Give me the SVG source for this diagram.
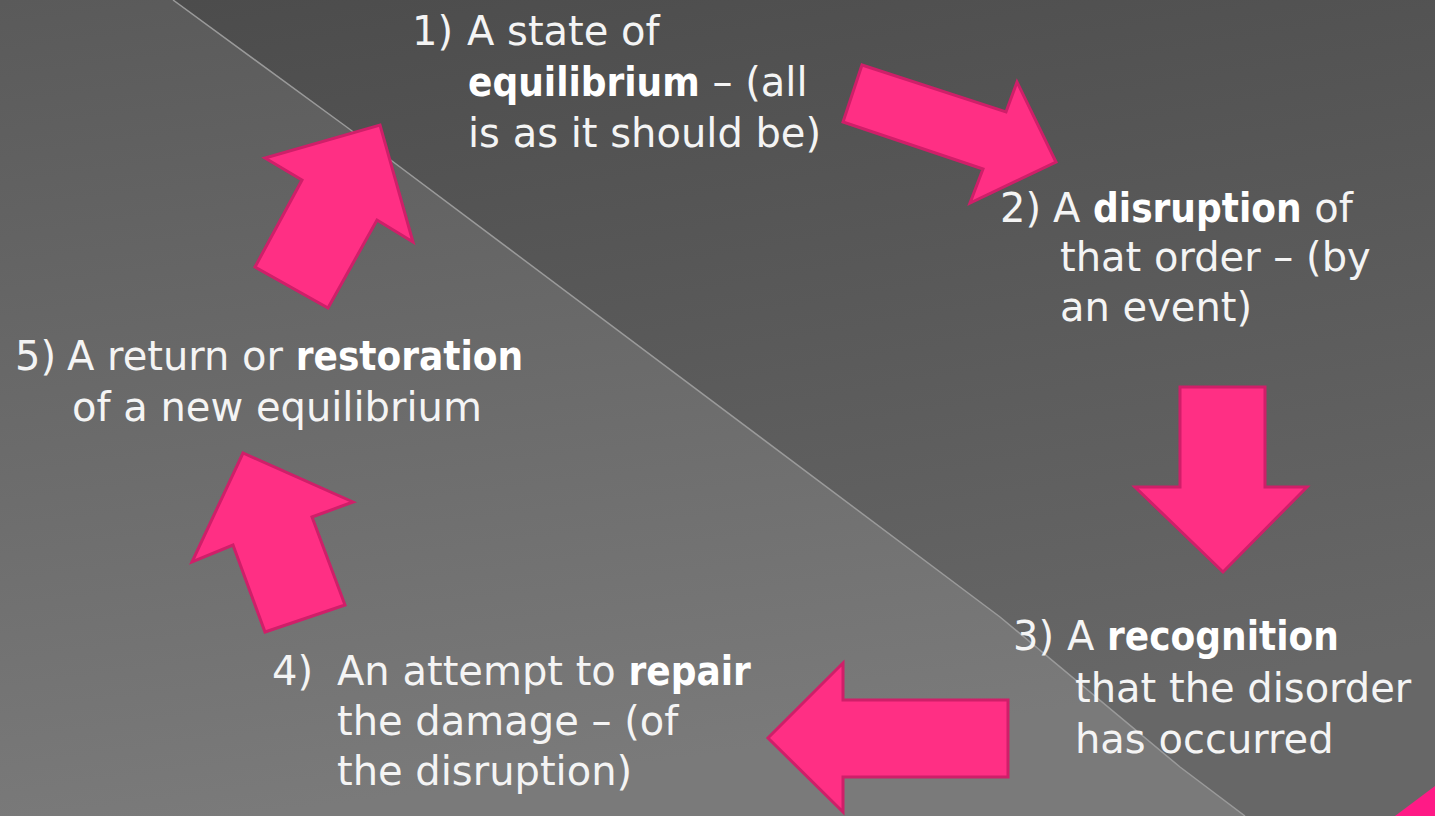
<svg xmlns="http://www.w3.org/2000/svg" width="1435" height="816" viewBox="0 0 1435 816">
  <defs>
    <linearGradient id="bgTop" x1="0" y1="0" x2="0.3" y2="1">
      <stop offset="0" stop-color="#4b4b4b"/>
      <stop offset="1" stop-color="#676767"/>
    </linearGradient>
    <linearGradient id="bgLow" x1="0" y1="0" x2="0.2" y2="1">
      <stop offset="0" stop-color="#5a5a5a"/>
      <stop offset="1" stop-color="#7a7a7a"/>
    </linearGradient>
    <filter id="glow" x="-10%" y="-10%" width="120%" height="120%">
      <feGaussianBlur stdDeviation="1.2"/>
    </filter>
  </defs>
  <style>
    .t { font-family: "DejaVu Sans", "Liberation Sans", sans-serif; font-size: 40px; fill: #f4f4f4; }
    .b { font-family: "DejaVu Sans Condensed", "DejaVu Sans", sans-serif; font-weight: bold; fill: #ffffff; }
    .arrow { fill: #ff2f84; stroke: #cf1f69; stroke-width: 3; stroke-linejoin: miter; }
  </style>

  <!-- background -->
  <rect x="0" y="0" width="1435" height="816" fill="url(#bgTop)"/>
  <polygon points="0,0 173,0 348,128 1000,617 1180,767 1245,816 0,816" fill="url(#bgLow)"/>
  <polyline points="173,0 348,128 1000,617 1180,767 1245,816" fill="none" stroke="#9a9a9a" stroke-width="1.5"/>
  <polygon points="1395,816 1435,786 1435,816" fill="#ff1a86"/>

  <!-- connectors -->
  <g id="connectors">
    <polygon class="arrow" points="862,65 1006,112 1017,82 1056,162 970,203 983,169 843,122"/>
    <polygon class="arrow" points="1180,387 1265,387 1265,487 1307,487 1223,572 1135,487 1180,487"/>
    <polygon class="arrow" points="1008,700 1008,777 843,777 843,812 768,738 843,663 843,700"/>
    <polygon class="arrow" points="345,605 265,632 233,545 192,562 243,453 353,502 312,517"/>
    <polygon class="arrow" points="328,308 255,267 302,180 265,158 380,125 413,242 377,220"/>
  </g>

  <!-- nodes -->
  <g id="node1">
    <text class="t" x="412" y="45">1)<tspan x="467">A state of</tspan></text>
    <text class="t" x="468" y="96"><tspan class="b">equilibrium</tspan> – (all</text>
    <text class="t" x="468" y="147">is as it should be)</text>
  </g>
  <g id="node2">
    <text class="t" x="1000" y="222">2)<tspan x="1053">A </tspan><tspan class="b">disruption</tspan> of</text>
    <text class="t" x="1060" y="271">that order – (by</text>
    <text class="t" x="1060" y="321">an event)</text>
  </g>
  <g id="node3">
    <text class="t" x="1013" y="650">3)<tspan x="1067">A </tspan><tspan class="b">recognition</tspan></text>
    <text class="t" x="1075" y="702">that the disorder</text>
    <text class="t" x="1075" y="753">has occurred</text>
  </g>
  <g id="node4">
    <text class="t" x="272" y="685">4)<tspan x="337">An attempt to </tspan><tspan class="b">repair</tspan></text>
    <text class="t" x="337" y="735">the damage – (of</text>
    <text class="t" x="337" y="785">the disruption)</text>
  </g>
  <g id="node5">
    <text class="t" x="15" y="370">5)<tspan x="67">A return or </tspan><tspan class="b">restoration</tspan></text>
    <text class="t" x="72" y="421">of a new equilibrium</text>
  </g>
</svg>
